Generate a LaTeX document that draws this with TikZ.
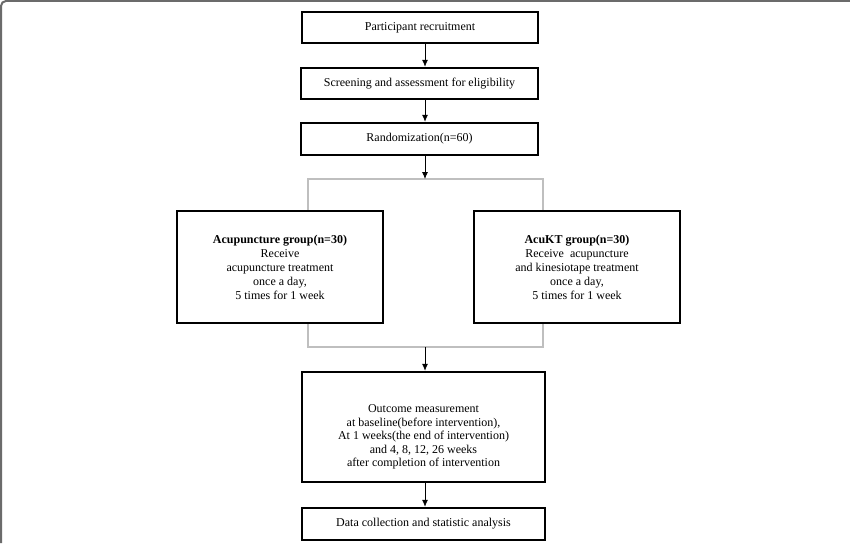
\documentclass[tikz,border=0pt]{standalone}
\usepackage{fontspec}
\setmainfont{Liberation Serif}
\usetikzlibrary{arrows.meta}
\begin{document}
\begin{tikzpicture}[x=1pt,y=-1pt,
  box/.style={draw=black,line width=2.4pt,fill=white,rectangle,inner sep=0pt,align=center,font=\fontsize{12}{14}\selectfont},
  arr/.style={draw=black,line width=0.8pt,-{Latex[length=7pt,width=6pt]}},
  brk/.style={draw=black!25,line width=1.2pt},
  frame/.style={draw=black!58,line width=2pt}]
\useasboundingbox (0,0) rectangle (850,543);
\draw[frame] (1,543) -- (1,6) arc[start angle=180,end angle=270,radius=5] -- (850,1);
\coordinate (ax) at (425,0);
\node[box,minimum width=236pt,minimum height=31pt] (b1) at (420,27.5) {Participant recruitment};
\node[box,minimum width=237pt,minimum height=31pt] (b2) at (419.5,83.5) {Screening and assessment for eligibility};
\node[box,minimum width=237pt,minimum height=32pt] (b3) at (419.5,139) {Randomization(n=60)};
\coordinate (bt) at (425,179);
\coordinate (bb) at (425,347);
\coordinate (btl) at (308,179);
\coordinate (bbr) at (543,347);
\draw[brk] (btl) rectangle (bbr);
\node[box,minimum width=206pt,minimum height=112pt] (g1) at (280,267) {\textbf{Acupuncture group(n=30)}\\Receive\\acupuncture treatment\\once a day,\\5 times for 1 week};
\node[box,minimum width=206pt,minimum height=112pt] (g2) at (577,267) {\textbf{AcuKT group(n=30)}\\Receive\ \ acupuncture\\and kinesiotape treatment\\once a day,\\5 times for 1 week};
\node[box,minimum width=243pt,minimum height=110pt] (om) at (423.5,427) {};
\node[align=center,inner sep=0pt,font=\fontsize{12}{13.5}\selectfont] (omt) at (423.5,437) {Outcome measurement\\at baseline(before intervention),\\At 1 weeks(the end of intervention)\\and 4, 8, 12, 26 weeks\\after completion of intervention};
\node[box,minimum width=243pt,minimum height=32pt] (dc) at (423.5,524) {Data collection and statistic analysis};
\draw[arr] (b1.south -| ax) -- (b2.north -| ax);
\draw[arr] (b2.south -| ax) -- (b3.north -| ax);
\draw[arr] (b3.south -| ax) -- (bt);
\draw[arr] (bb) -- (om.north -| ax);
\draw[arr] (om.south -| ax) -- (dc.north -| ax);
\end{tikzpicture}
\end{document}
